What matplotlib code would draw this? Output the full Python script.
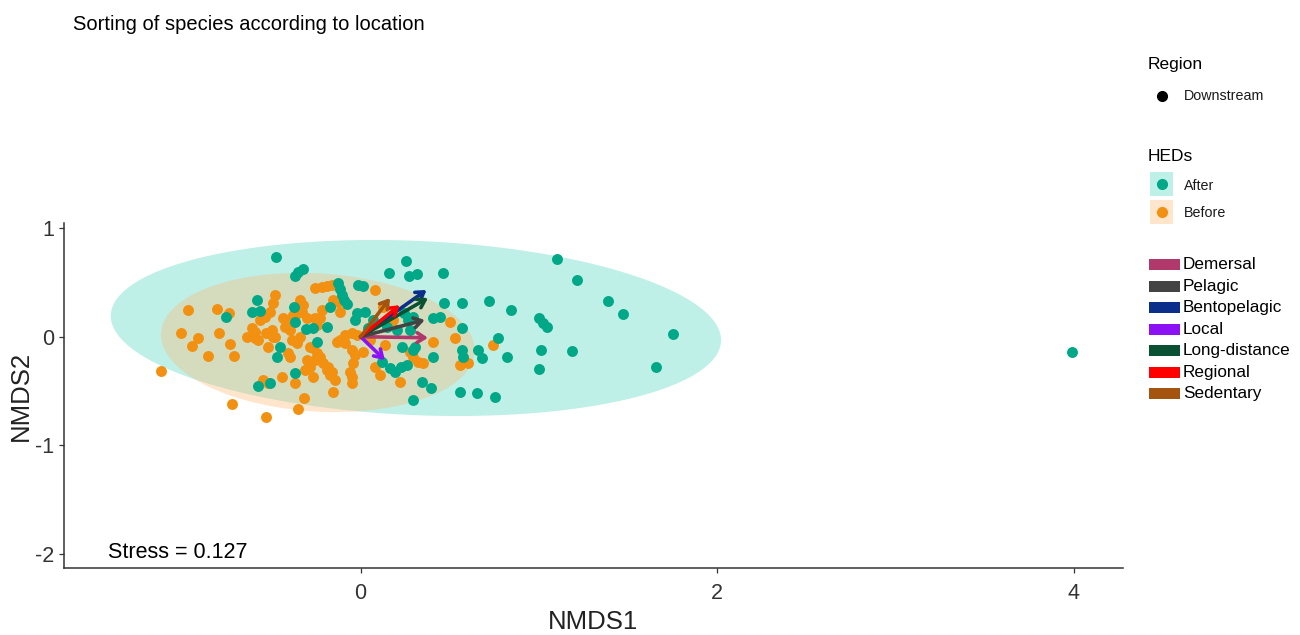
import numpy as np
import matplotlib
matplotlib.use("Agg")
import matplotlib.pyplot as plt
from matplotlib.patches import Rectangle
from matplotlib.lines import Line2D

plt.rcParams['font.family'] = ['Liberation Sans', 'DejaVu Sans']
plt.rcParams['axes.unicode_minus'] = False

# ---------------- data ----------------
after_x = [-0.475, -0.369, -0.352, -0.324, -0.127, -0.116, -0.105, -0.094, -0.077, -0.015,
           0.013, 0.159, 0.254, 0.271, 0.316, 0.462, 0.467, 0.568, 0.720, -0.582,
           -0.610, -0.565, -0.756, -0.374, -0.172, -0.369, -0.307, -0.268, -0.189, -0.021,
           -0.032, -0.245, -0.453, -0.469, -0.369, -0.576, -0.509, 0.293, 0.344, 0.394,
           0.406, 0.406, 0.445, 0.232, 0.119, 0.164, 0.192, 0.226, 0.260, 0.305,
           0.293, 0.265, 0.568, 0.293, 0.568, 0.574, 0.658, 0.680, 0.770, 0.557,
           0.652, 0.753, 0.024, 0.041, 0.069, 0.148, 0.204, 1.101, 1.213, 0.843,
           1.387, 1.471, 1.000, 1.022, 1.045, 1.752, 0.821, 1.011, 1.185, 1.000,
           1.656, 3.989, 0.243, 0.277]
after_y = [0.733, 0.558, 0.595, 0.623, 0.494, 0.439, 0.384, 0.338, 0.301, 0.476,
           0.466, 0.586, 0.696, 0.558, 0.577, 0.586, 0.310, 0.310, 0.328, 0.338,
           0.227, 0.236, 0.181, 0.273, 0.273, 0.135, 0.071, 0.080, 0.089, 0.218,
           0.154, -0.049, -0.095, -0.187, -0.334, -0.454, -0.426, -0.582, -0.417, -0.472,
           -0.187, 0.172, 0.181, -0.095, -0.233, -0.288, -0.325, -0.279, -0.260, -0.095,
           0.181, 0.154, 0.080, -0.122, -0.122, -0.187, -0.122, -0.196, -0.012, -0.509,
           -0.518, -0.555, 0.227, 0.080, 0.154, 0.089, 0.062, 0.715, 0.522, 0.246,
           0.328, 0.209, 0.172, 0.126, 0.089, 0.025, -0.187, -0.122, -0.132, -0.297,
           -0.279, -0.141, 0.218, 0.062]

before_x = [-0.969, -0.806, -0.739, -1.008, -0.913, -0.946, -0.795, -0.733, -0.857, -0.711,
            -1.120, -0.722, -0.531, -0.352, -0.318, -0.638, -0.610, -0.576, -0.593, -0.565,
            -0.537, -0.520, -0.548, -0.481, -0.492, -0.509, -0.256, -0.217, -0.189, -0.161,
            -0.340, -0.324, -0.329, -0.408, -0.425, -0.397, -0.497, -0.492, -0.217, -0.228,
            -0.245, -0.116, -0.127, -0.385, -0.357, -0.408, -0.133, -0.088, -0.049, -0.021,
            -0.301, -0.284, -0.256, -0.228, -0.211, -0.183, -0.161, -0.144, -0.155, -0.049,
            -0.032, -0.043, -0.060, -0.049, -0.268, -0.369, -0.441, -0.301, 0.080, 0.125,
            0.181, 0.501, 0.529, 0.406, 0.277, 0.293, 0.321, 0.349, 0.080, 0.108,
            0.220, 0.557, 0.602, 0.742, 0.013, -0.436, -0.380, -0.284, -0.245, -0.155,
            -0.116, -0.531, 0.052, 0.136, -0.350, -0.397, -0.256, -0.593, -0.481, -0.397,
            -0.340, -0.266, -0.191, -0.172, -0.050, -0.312, -0.518, -0.088]
before_y = [0.246, 0.255, 0.218, 0.034, -0.012, -0.086, 0.034, -0.067, -0.178, -0.178,
            -0.316, -0.619, -0.739, -0.665, -0.564, -0.003, 0.080, -0.030, 0.043, 0.154,
            0.181, -0.095, -0.398, 0.384, 0.310, 0.227, 0.448, 0.457, 0.466, 0.476,
            0.338, 0.292, 0.227, 0.154, 0.089, 0.062, 0.062, -0.003, 0.246, 0.172,
            0.108, 0.227, 0.319, -0.030, -0.058, -0.150, -0.049, 0.016, 0.034, 0.016,
            -0.214, -0.279, -0.214, -0.187, -0.242, -0.279, -0.325, -0.398, -0.509, -0.122,
            -0.168, -0.242, -0.325, -0.426, -0.371, -0.426, -0.371, 0.172, 0.430, 0.273,
            0.154, 0.135, -0.012, -0.049, -0.141, -0.187, -0.233, -0.242, -0.279, -0.352,
            -0.417, -0.260, -0.242, -0.076, -0.141, 0.172, 0.200, -0.095, -0.150, 0.338,
            -0.030, 0.034, -0.030, -0.076, 0.215, 0.123, 0.169, -0.015, 0.000, -0.184,
            0.000, -0.107, -0.306, -0.352, -0.368, -0.306, -0.429, -0.061]

# ellipse parameters: centre x, centre y, semi-axis a, semi-axis b, angle (deg)
ellipse_after = [0.31, 0.08, 1.716, 0.80, -4.75]
ellipse_before = [-0.24, -0.053, 0.886, 0.632, -9.5]

vector_names = ["Demersal", "Pelagic", "Bentopelagic", "Local", "Long-distance", "Regional", "Sedentary"]
vector_x = [0.378, 0.360, 0.370, 0.136, 0.378, 0.220, 0.165]
vector_y = [-0.010, 0.154, 0.430, -0.215, 0.356, 0.290, 0.356]
vector_colors = ["#B0386A", "#434343", "#0B2E8A", "#8C12F5", "#0A5134", "#FF0000", "#A5540F"]

stress = 0.127
x_ticks = [0, 2, 4]
y_ticks = [1, 0, -1, -2]

# ---------------- styling ----------------
col_after_pt = "#00A887"
col_before_pt = "#F29111"
fill_after = (190/255, 240/255, 232/255)
fill_before = (1.0, 186/255, 118/255)
alpha_before = 0.37

W, H = 1300, 635
fig = plt.figure(figsize=(13, 6.35), dpi=100)
ax_l, ax_r, ax_t, ax_b = 64.3, 1122.7, 223.0, 568.3
ax = fig.add_axes([ax_l/W, 1-ax_b/H, (ax_r-ax_l)/W, (ax_b-ax_t)/H])
ax.set_xlim(-1.662, 4.274)
ax.set_ylim(-2.131, 1.046)


def ellipse_xy(p):
    cx, cy, a, b, ang = p
    t = np.linspace(0, 2*np.pi, 300)
    th = np.deg2rad(ang)
    ex = cx + a*np.cos(t)*np.cos(th) - b*np.sin(t)*np.sin(th)
    ey = cy + a*np.cos(t)*np.sin(th) + b*np.sin(t)*np.cos(th)
    return ex, ey

ex, ey = ellipse_xy(ellipse_after)
ax.fill(ex, ey, color=fill_after, lw=0, zorder=1)
ex, ey = ellipse_xy(ellipse_before)
ax.fill(ex, ey, color=fill_before, alpha=alpha_before, lw=0, zorder=2)

ax.scatter(before_x, before_y, s=62, color=col_before_pt, lw=0, zorder=3)
ax.scatter(after_x, after_y, s=62, color=col_after_pt, lw=0, zorder=4)

for vx, vy, c in zip(vector_x, vector_y, vector_colors):
    ax.annotate("", xy=(vx, vy), xytext=(0, 0),
                arrowprops=dict(arrowstyle="->,head_length=0.55,head_width=0.35",
                                color=c, lw=2.6, shrinkA=0, shrinkB=0),
                zorder=5)

ax.text(-1.417, -1.99, f"Stress = {stress}", fontsize=15.5, ha="left", va="center", color="black")

for s in ["top", "right"]:
    ax.spines[s].set_visible(False)
for s in ["left", "bottom"]:
    ax.spines[s].set_color("#333333")
    ax.spines[s].set_linewidth(1.1)
ax.set_xticks(x_ticks)
ax.set_yticks(y_ticks)
ax.tick_params(axis="both", length=3.5, width=0.9, color="#333333", labelcolor="#333333", labelsize=15.5)
ax.tick_params(axis="x", pad=7)
ax.tick_params(axis="y", pad=4)
ax.set_xlabel("NMDS1", fontsize=18.5, color="#222222")
ax.set_ylabel("NMDS2", fontsize=18.5, color="#222222")
ax.xaxis.set_label_coords(0.5, (ax_b-629)/(ax_b-ax_t))
ax.xaxis.label.set_va("baseline")
ax.yaxis.set_label_coords((21-ax_l)/(ax_r-ax_l), 0.5)
ax.yaxis.label.set_va("center")
ax.yaxis.label.set_ha("center")

# title
fig.text(73/W, 1-30/H, "Sorting of species according to location", fontsize=14.5, ha="left", va="baseline")

# ---------------- legends (figure coordinates in pixels) ----------------
def fx(x):
    return x/W

def fy(y):
    return 1-y/H

fig.text(fx(1148), fy(65), "Region", fontsize=12.5, ha="left", va="center")
fig.add_artist(Line2D([fx(1162)], [fy(96)], marker="o", markersize=7, color="black", lw=0))
fig.text(fx(1184), fy(96), "Downstream", fontsize=10.3, ha="left", va="center", color="#1a1a1a")

fig.text(fx(1148), fy(156), "HEDs", fontsize=12.5, ha="left", va="center")
fig.patches.append(Rectangle((fx(1150), fy(196)), 23/W, 24/H, transform=fig.transFigure,
                             facecolor=fill_after, lw=0, figure=fig))
fig.patches.append(Rectangle((fx(1150), fy(224)), 23/W, 24/H, transform=fig.transFigure,
                             facecolor=fill_before, alpha=alpha_before, lw=0, figure=fig))
fig.text(fx(1184), fy(186), "After", fontsize=10.3, ha="left", va="center", color="#1a1a1a")
fig.text(fx(1184), fy(213), "Before", fontsize=10.3, ha="left", va="center", color="#1a1a1a")
fig.add_artist(Line2D([fx(1162)], [fy(184)], marker="o", markersize=7, color=col_after_pt, lw=0))
fig.add_artist(Line2D([fx(1162)], [fy(212)], marker="o", markersize=7, color=col_before_pt, lw=0))

for i, (name, c) in enumerate(zip(vector_names, vector_colors)):
    yc = 264.5 + 21.5*i
    fig.patches.append(Rectangle((fx(1149), fy(yc+5.5)), 31/W, 11/H, transform=fig.transFigure,
                                 facecolor=c, lw=0, figure=fig))
    fig.text(fx(1183), fy(yc), name, fontsize=12.3, ha="left", va="center", color="black")

fig.savefig("out.png", dpi=100)
